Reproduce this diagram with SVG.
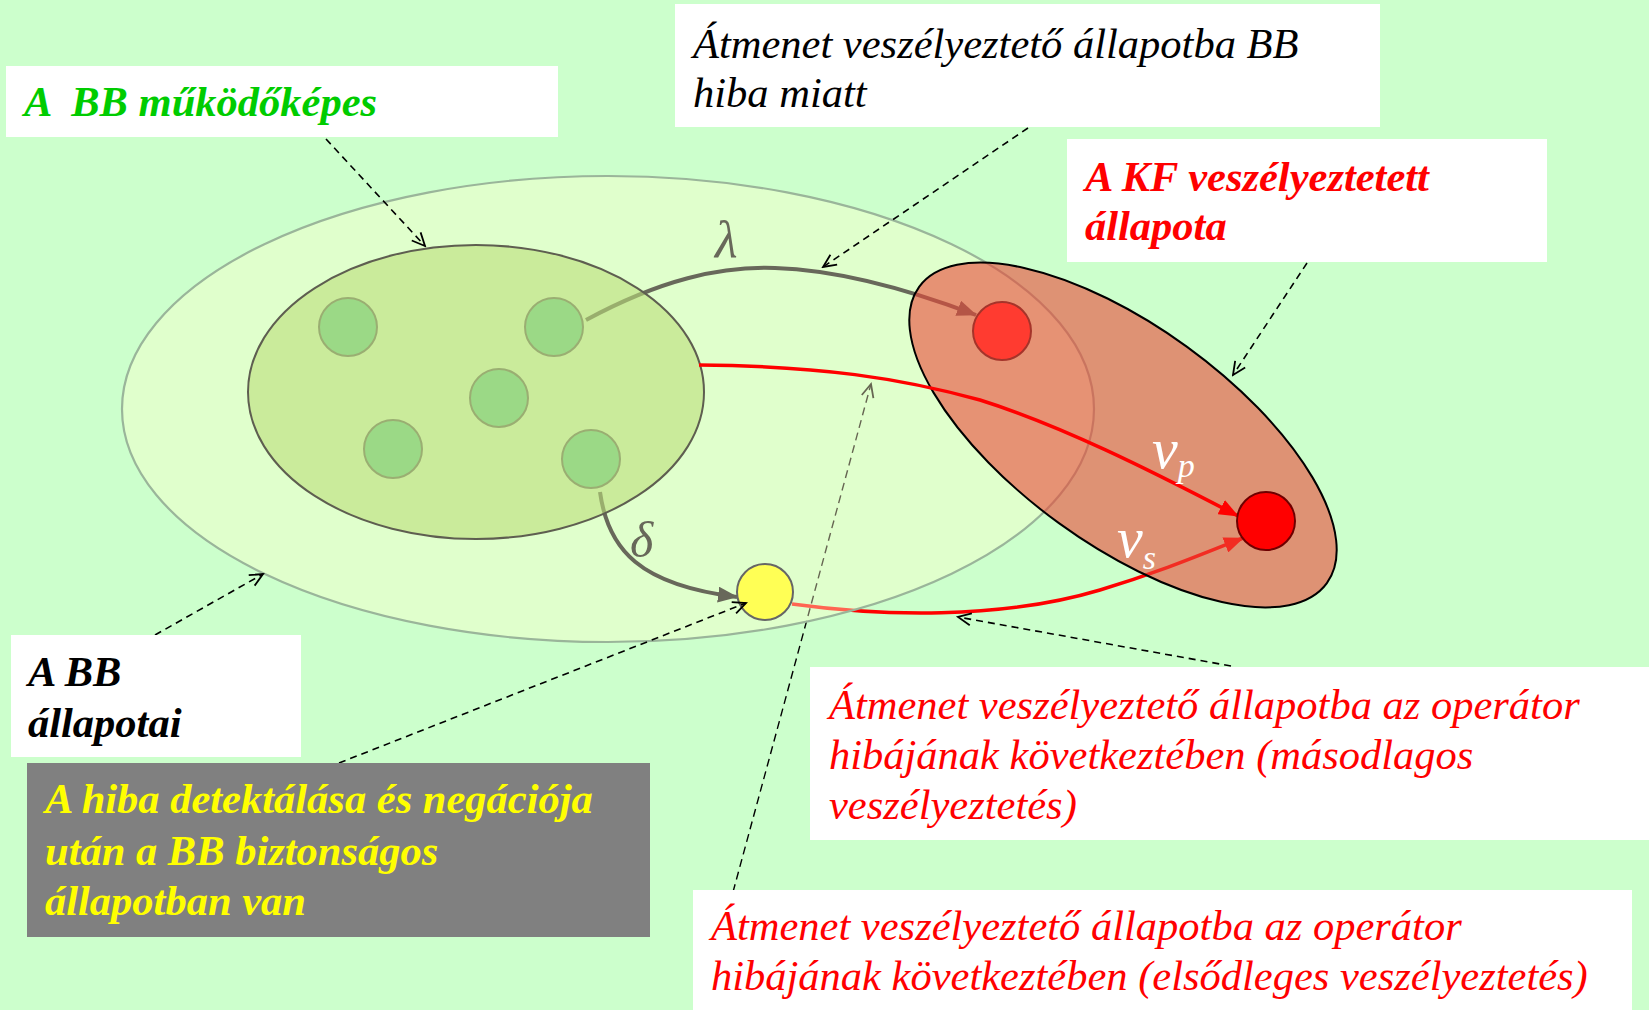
<svg xmlns="http://www.w3.org/2000/svg" width="1649" height="1010" viewBox="0 0 1649 1010">
<style>
  .box{fill:#ffffff}
  .call{fill:none;stroke:#000;stroke-width:1.6;stroke-dasharray:7 5}
  .dot{fill:#9bd986;stroke:#9aae72;stroke-width:2}
  .gline{fill:none;stroke:#68685a;stroke-width:4}
  .rline{fill:none;stroke:#ff0000;stroke-width:3.5}
</style>
<defs>
  <marker id="ahGrey" markerUnits="userSpaceOnUse" markerWidth="20" markerHeight="16" viewBox="0 0 20 16" refX="19" refY="8" orient="auto">
    <path d="M0,0 L20,8 L0,16 z" fill="#68685a"/>
  </marker>
  <marker id="ahRed" markerUnits="userSpaceOnUse" markerWidth="20" markerHeight="16" viewBox="0 0 20 16" refX="19" refY="8" orient="auto">
    <path d="M0,0 L20,8 L0,16 z" fill="#ff0000"/>
  </marker>
  <marker id="open" markerUnits="userSpaceOnUse" markerWidth="16" markerHeight="16" viewBox="0 0 16 16" refX="14" refY="7" orient="auto">
    <path d="M1,1 L14,7 L1,13" fill="none" stroke="#000" stroke-width="1.8"/>
  </marker>
</defs>

<rect width="1649" height="1010" fill="#ccffcc"/>

<g id="connectors-back">
  <path class="rline" d="M792,604 C880,616 1000,620 1100,590 C1160,572 1200,555 1243,538" marker-end="url(#ahRed)"/>
  <path d="M733,892 L871,384" fill="none" stroke="#000" stroke-width="1.4" stroke-dasharray="8 5" marker-end="url(#open)"/>
</g>

<g id="bb-states">
  <ellipse cx="608" cy="409" rx="486" ry="233" fill="#ffffcc" fill-opacity="0.4" stroke="#9ab59a" stroke-width="2.2"/>
</g>

<g id="connectors-mid">
  <path class="gline" d="M586,320 C660,280 720,266 775,268 C840,270 910,290 976,315" marker-end="url(#ahGrey)"/>
  <path class="gline" d="M600,492 C608,550 640,585 737,597" marker-end="url(#ahGrey)"/>
</g>

<g id="bb-operable">
  <ellipse cx="476" cy="392" rx="228" ry="147" fill="#bade7a" fill-opacity="0.6" stroke="#5e5e50" stroke-width="2"/>
</g>

<g id="ok-states">
  <circle class="dot" cx="348" cy="327" r="29"/>
  <circle class="dot" cx="554" cy="327" r="29"/>
  <circle class="dot" cx="499" cy="398" r="29"/>
  <circle class="dot" cx="393" cy="449" r="29"/>
  <circle class="dot" cx="591" cy="459" r="29"/>
</g>

<g id="kf-danger">
  <ellipse cx="1123" cy="435" rx="252" ry="109" transform="rotate(36 1123 435)" fill="#ea4a39" fill-opacity="0.6" stroke="#000" stroke-width="2"/>
</g>

<g id="connectors">
  <path class="rline" d="M699,365 C820,366 900,378 980,400 C1060,425 1150,470 1238,516" marker-end="url(#ahRed)"/>
</g>

<g id="danger-bb">
  <circle cx="1002" cy="331" r="29" fill="#ff3b30" stroke="#a5342a" stroke-width="2"/>
</g>
<g id="danger-op">
  <circle cx="1266" cy="521" r="29" fill="#ff0000" stroke="#6e0000" stroke-width="2"/>
</g>
<g id="safe-state">
  <circle cx="765" cy="592" r="28" fill="#ffff55" stroke="#666666" stroke-width="2"/>
</g>

<g font-family="Liberation Serif, Times New Roman, Times, DejaVu Serif, serif" font-style="italic">
<g id="rate-labels">
  <text x="715" y="257" font-size="52" fill="#68685a">λ</text>
  <text x="630" y="557" font-size="50" fill="#68685a">δ</text>
  <text x="1152" y="468" font-size="58" fill="#ffffff">ν<tspan font-size="34" dy="9">p</tspan></text>
  <text x="1117" y="557" font-size="58" fill="#ffffff">ν<tspan font-size="34" dy="12">s</tspan></text>
</g>
</g>

<g id="callouts">
  <path class="call" d="M326,139 L425,246" marker-end="url(#open)"/>
  <path class="call" d="M1028,128 L823,267" marker-end="url(#open)"/>
  <path class="call" d="M1307,263 L1233,375" marker-end="url(#open)"/>
  <path class="call" d="M155,635 L263,574" marker-end="url(#open)"/>
  <path class="call" d="M339,763 L746,603" marker-end="url(#open)"/>
  <path class="call" d="M1231,666 L958,617" marker-end="url(#open)"/>
</g>

<g font-family="Liberation Serif, Times New Roman, Times, DejaVu Serif, serif" font-style="italic" font-size="42.5">
<g id="label-operable">
  <rect class="box" x="6" y="66" width="552" height="71"/>
  <text x="24" y="116" font-weight="bold" fill="#00cc00" xml:space="preserve">A  BB működőképes</text>
</g>

<g id="label-bb-fault">
  <rect class="box" x="675" y="4" width="705" height="123"/>
  <text fill="#000000">
    <tspan x="693" y="58">Átmenet veszélyeztető állapotba BB</tspan>
    <tspan x="693" y="107">hiba miatt</tspan>
  </text>
</g>

<g id="label-kf">
  <rect class="box" x="1067" y="139" width="480" height="123"/>
  <text font-weight="bold" fill="#ff0000">
    <tspan x="1085" y="191">A KF veszélyeztetett</tspan>
    <tspan x="1085" y="240">állapota</tspan>
  </text>
</g>

<g id="label-bb-states">
  <rect class="box" x="11" y="635" width="290" height="122"/>
  <text font-weight="bold" fill="#000000">
    <tspan x="28" y="686">A BB</tspan>
    <tspan x="28" y="737">állapotai</tspan>
  </text>
</g>

<g id="label-safe">
  <rect x="27" y="763" width="623" height="174" fill="#808080"/>
  <text font-weight="bold" fill="#ffff00">
    <tspan x="45" y="813">A hiba detektálása és negációja</tspan>
    <tspan x="45" y="865">után a BB biztonságos</tspan>
    <tspan x="45" y="915">állapotban van</tspan>
  </text>
</g>

<g id="label-secondary">
  <rect class="box" x="810" y="667" width="839" height="173"/>
  <text fill="#ff0000">
    <tspan x="829" y="719">Átmenet veszélyeztető állapotba az operátor</tspan>
    <tspan x="829" y="769">hibájának következtében (másodlagos</tspan>
    <tspan x="829" y="819">veszélyeztetés)</tspan>
  </text>
</g>

<g id="label-primary">
  <rect class="box" x="693" y="890" width="939" height="120"/>
  <text fill="#ff0000">
    <tspan x="711" y="940">Átmenet veszélyeztető állapotba az operátor</tspan>
    <tspan x="711" y="990">hibájának következtében (elsődleges veszélyeztetés)</tspan>
  </text>
</g>
</g>
</svg>
